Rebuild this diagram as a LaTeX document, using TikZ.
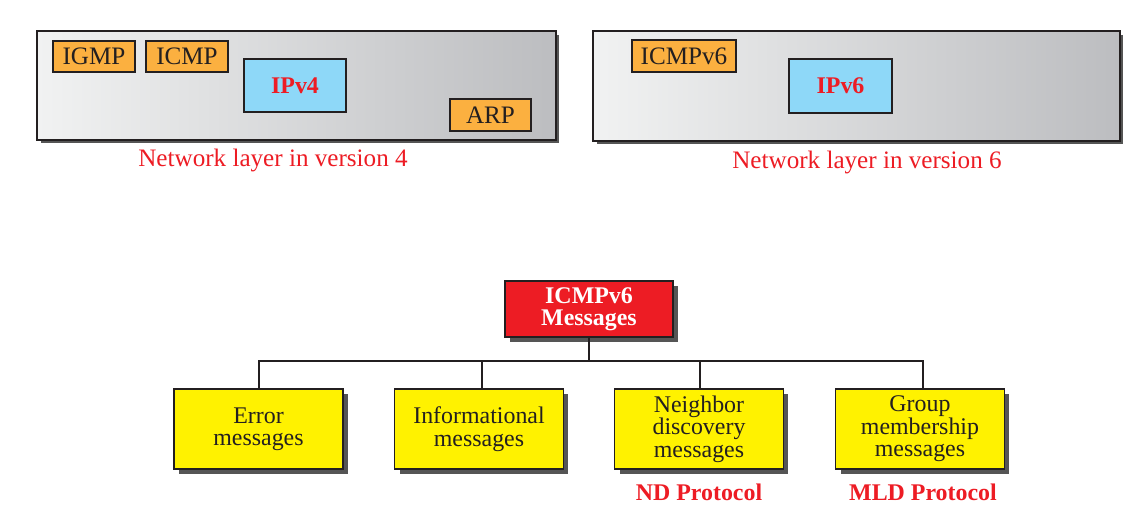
\documentclass[tikz,border=0pt]{standalone}
\usepackage{fontspec}
\setmainfont{Liberation Serif}
\usepackage{tikz}
\usetikzlibrary{positioning,shadows}
\usepackage{xcolor}
\definecolor{protoorange}{HTML}{FBB040}
\definecolor{ipblue}{HTML}{8ED8F8}
\definecolor{msgred}{HTML}{ED1C24}
\definecolor{msgyellow}{HTML}{FFF200}
\definecolor{shadowgray}{HTML}{555555}
\definecolor{layerleft}{HTML}{F1F2F2}
\definecolor{layerright}{HTML}{BCBDC0}
\definecolor{inkblack}{HTML}{231F20}

\begin{document}
\begin{tikzpicture}[x=0.02cm, y=-0.02cm,
every node/.style={font=\fontsize{13.6}{12.8}\selectfont, text=inkblack},
layerbox/.style={draw=inkblack, line width=0.8pt, inner sep=0pt, left color=layerleft, right color=layerright,
  drop shadow={fill=shadowgray, opacity=1, shadow xshift=0.07cm, shadow yshift=-0.07cm}},
protobox/.style={draw=inkblack, line width=0.6pt, fill=protoorange, inner sep=0pt, minimum width=1.64cm, minimum height=0.62cm,
  font=\fontsize{14.3}{13}\selectfont},
ipbox/.style={draw=inkblack, line width=0.6pt, fill=ipblue, inner sep=0pt, minimum width=2.04cm, minimum height=1.06cm,
  font=\fontsize{13.6}{12}\selectfont\bfseries, text=msgred},
caption/.style={text=msgred, font=\fontsize{14.3}{13}\selectfont},
rootbox/.style={draw=inkblack, line width=0.6pt, fill=msgred, inner sep=0pt, minimum width=3.36cm, minimum height=1.12cm,
  align=center, font=\fontsize{13.6}{12.6}\selectfont\bfseries, text=white,
  drop shadow={fill=shadowgray, opacity=1, shadow xshift=0.1cm, shadow yshift=-0.1cm}},
msgbox/.style={draw=inkblack, line width=0.6pt, fill=msgyellow, inner sep=0pt, minimum width=3.38cm, minimum height=1.6cm,
  align=center, drop shadow={fill=shadowgray, opacity=1, shadow xshift=0.1cm, shadow yshift=-0.1cm}},
protolabel/.style={font=\fontsize{13.6}{12}\selectfont\bfseries, text=msgred},
branch/.style={draw=inkblack, line width=0.8pt}]
\useasboundingbox (0,0) rectangle (1134,525);

% network layer in version 4
\node[layerbox, minimum width=10.38cm, minimum height=2.18cm] (vfourlayer) at (296.5,85.5) {};
\node[protobox] (igmp) at (94,56.5) {IGMP};
\node[protobox] (icmp) at (187,56.5) {ICMP};
\node[ipbox] (ipvfour) at (295,85.5) {IPv4};
\node[protobox, minimum width=1.62cm, minimum height=0.64cm] (arp) at (490.5,115) {ARP};
\node[caption] (vfourcap) at (273,160) {Network layer in version 4};

% network layer in version 6
\node[layerbox, minimum width=10.54cm, minimum height=2.2cm] (vsixlayer) at (856.5,86) {};
\node[protobox, minimum width=2.08cm, minimum height=0.64cm] (icmpvsix) at (684,56) {ICMPv6};
\node[ipbox, minimum width=2.06cm, minimum height=1.08cm] (ipvsix) at (840.5,86) {IPv6};
\node[caption] (vsixcap) at (867,162) {Network layer in version 6};

% ICMPv6 message tree
\node[rootbox] (root) at (589,309) {ICMPv6\\Messages};
\node[msgbox] (err) at (258.5,429) {Error\\messages};
\node[msgbox] (info) at (479,429) {Informational\\messages};
\node[msgbox] (nd) at (699,429) {Neighbor\\discovery\\messages};
\node[msgbox] (mld) at (920,429) {Group\\membership\\messages};
\node[protolabel] (ndproto) at (699,492) {ND Protocol};
\node[protolabel] (mldproto) at (923,492) {MLD Protocol};

\coordinate (bus) at (589,361);
\draw[branch] (root.south) -- (bus);
\draw[branch] (bus) -| ([xshift=0.01cm]err.north);
\draw[branch] (bus) -| ([xshift=0.06cm]info.north);
\draw[branch] (bus) -| ([xshift=0.02cm]nd.north);
\draw[branch] (bus) -| ([xshift=0.06cm]mld.north);
\end{tikzpicture}
\end{document}
